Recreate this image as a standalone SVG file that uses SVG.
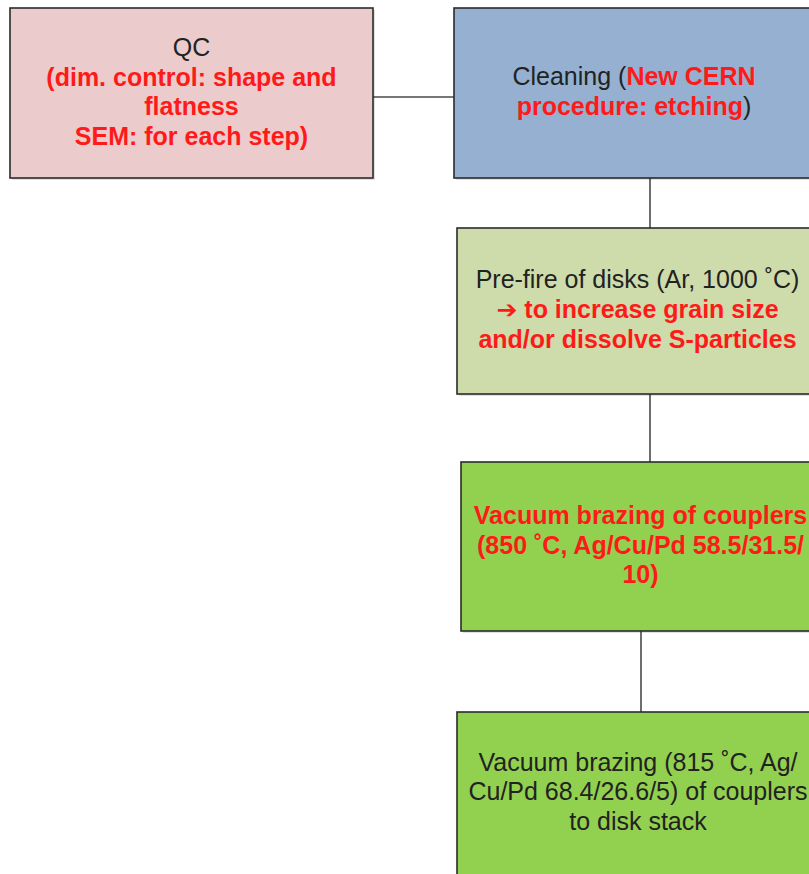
<svg xmlns="http://www.w3.org/2000/svg" width="809" height="874" viewBox="0 0 809 874">
<style>
.box{stroke:#2b2b2b;stroke-width:1.6}
.t{font-family:"Liberation Sans",Arial,"DejaVu Sans",sans-serif;font-size:25px;text-anchor:middle;fill:#222}
.r{fill:#ff1a1a;font-weight:bold}
.k{fill:#222;font-weight:normal}
.c{stroke:#4a4a4a;stroke-width:1.6;fill:none}
.sh{fill:#000;opacity:0.12}
</style>
<rect width="809" height="874" fill="#ffffff"/>
<g id="connectors">
<line class="c" x1="373" y1="97" x2="454" y2="97"/>
<line class="c" x1="650" y1="178" x2="650" y2="228"/>
<line class="c" x1="650" y1="394" x2="650" y2="462"/>
<line class="c" x1="641" y1="631" x2="641" y2="712"/>
</g>
<g id="qc">
<rect class="sh" x="12" y="10" width="363" height="170"/>
<rect class="box" x="10" y="8" width="363" height="170" fill="#ebcbcb"/>
<text class="t" x="191.5" y="56">QC</text>
<text class="t r" x="191.5" y="85.5">(dim. control: shape and</text>
<text class="t r" x="191.5" y="115">flatness</text>
<text class="t r" x="191.5" y="144.5">SEM: for each step)</text>
</g>
<g id="cleaning">
<rect class="sh" x="456" y="10" width="360" height="170"/>
<rect class="box" x="454" y="8" width="360" height="170" fill="#95b0d0"/>
<text class="t" x="634" y="85">Cleaning (<tspan class="r">New CERN</tspan></text>
<text class="t" x="634" y="115"><tspan class="r">procedure: etching</tspan>)</text>
</g>
<g id="prefire">
<rect class="sh" x="459" y="230" width="361" height="166"/>
<rect class="box" x="457" y="228" width="361" height="166" fill="#cddcaa"/>
<text class="t" x="637.5" y="288">Pre-fire of disks (Ar, 1000 ˚C)</text>
<text class="t r" x="637.5" y="318"><tspan font-family="'DejaVu Sans',sans-serif">➔</tspan> to increase grain size</text>
<text class="t r" x="637.5" y="348">and/or dissolve S-particles</text>
</g>
<g id="brazing1">
<rect class="sh" x="463" y="464" width="359" height="169"/>
<rect class="box" x="461" y="462" width="359" height="169" fill="#92d050"/>
<text class="t r" x="640.5" y="524">Vacuum brazing of couplers</text>
<text class="t r" x="640.5" y="554">(850 ˚C, Ag/Cu/Pd 58.5/31.5/</text>
<text class="t r" x="640.5" y="583">10)</text>
</g>
<g id="brazing2">
<rect class="sh" x="459" y="714" width="362" height="180"/>
<rect class="box" x="457" y="712" width="362" height="180" fill="#92d050"/>
<text class="t" x="638" y="771">Vacuum brazing (815 ˚C, Ag/</text>
<text class="t" x="638" y="800">Cu/Pd 68.4/26.6/5) of couplers</text>
<text class="t" x="638" y="830">to disk stack</text>
</g>
</svg>
